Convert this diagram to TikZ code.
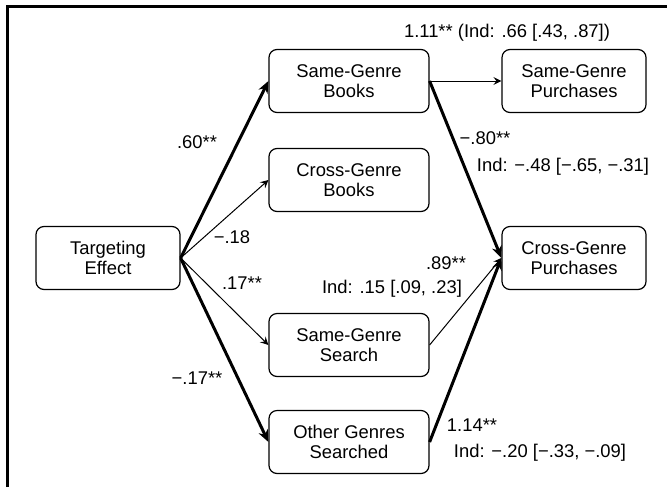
\documentclass[tikz,border=0pt]{standalone}
\usepackage{fontspec}
\setmainfont{Liberation Sans}
\usetikzlibrary{arrows.meta}

\tikzset{
  var/.style={draw,rounded corners=4pt,line width=0.6pt,align=center,
    minimum width=80pt,minimum height=31.5pt,inner sep=0pt},
  weak/.style={-{Stealth[length=4pt,width=4pt,inset=1.5pt]},line width=0.5pt},
  strong/.style={-{Stealth[length=6pt,width=5pt]},line width=1.5pt}
}

\begin{document}
\begin{tikzpicture}[x=0.5pt,y=-0.5pt,font=\fontsize{9.2}{10}\selectfont]
            \useasboundingbox (0,0) rectangle (667,487);
            \draw[line width=1.5pt] (7.5,487) |- (667,6);
            % variables
            \node[var,minimum width=72pt] (te) at (108,258) {Targeting\\Effect};
            \node[var] (sgb) at (349,81) {Same-Genre\\Books};
            \node[var] (cgb) at (349,180) {Cross-Genre\\Books};
            \node[var] (sgs) at (349,345) {Same-Genre\\Search};
            \node[var] (ogs) at (349,442) {Other Genres\\Searched};
            \node[var,minimum width=72pt] (sgp) at (574,81) {Same-Genre\\Purchases};
            \node[var,minimum width=72pt] (cgp) at (574,258) {Cross-Genre\\Purchases};
            % paths
            \draw[strong] (te.east)--(sgb.west);
            \draw[weak] (te.east)--(cgb.west);
            \draw[weak] (te.east)--(sgs.west);
            \draw[strong] (te.east)--(ogs.west);
            \draw[weak] (sgb.east)--(sgp.west);
            \draw[strong] (sgb.east)--(cgp.west);
            \draw[weak] (sgs.east)--(cgp.west);
            \draw[strong] (ogs.east)--(cgp.west);
            % coefficients
            \node (csgp) at (507,33) {1.11** (Ind: .66 [.43, .87])};
            \node (csgb) at (197,142) {.60**};
            \node (ccgb) at (232,237) {−.18};
            \node (csgs) at (242,283) {.17**};
            \node (cogs) at (197,378) {−.17**};
            \node (ccgp) at (485,138) {−.80**};
            \node (icgp) at (563,167) {Ind: −.48 [−.65, −.31]};
            \node (csrc) at (446,263) {.89**};
            \node (isrc) at (392,289) {Ind: .15 [.09, .23]};
            \node (cogp) at (472,425) {1.14**};
            \node (iogp) at (540,453) {Ind: −.20 [−.33, −.09]};
        \end{tikzpicture}
\end{document}
